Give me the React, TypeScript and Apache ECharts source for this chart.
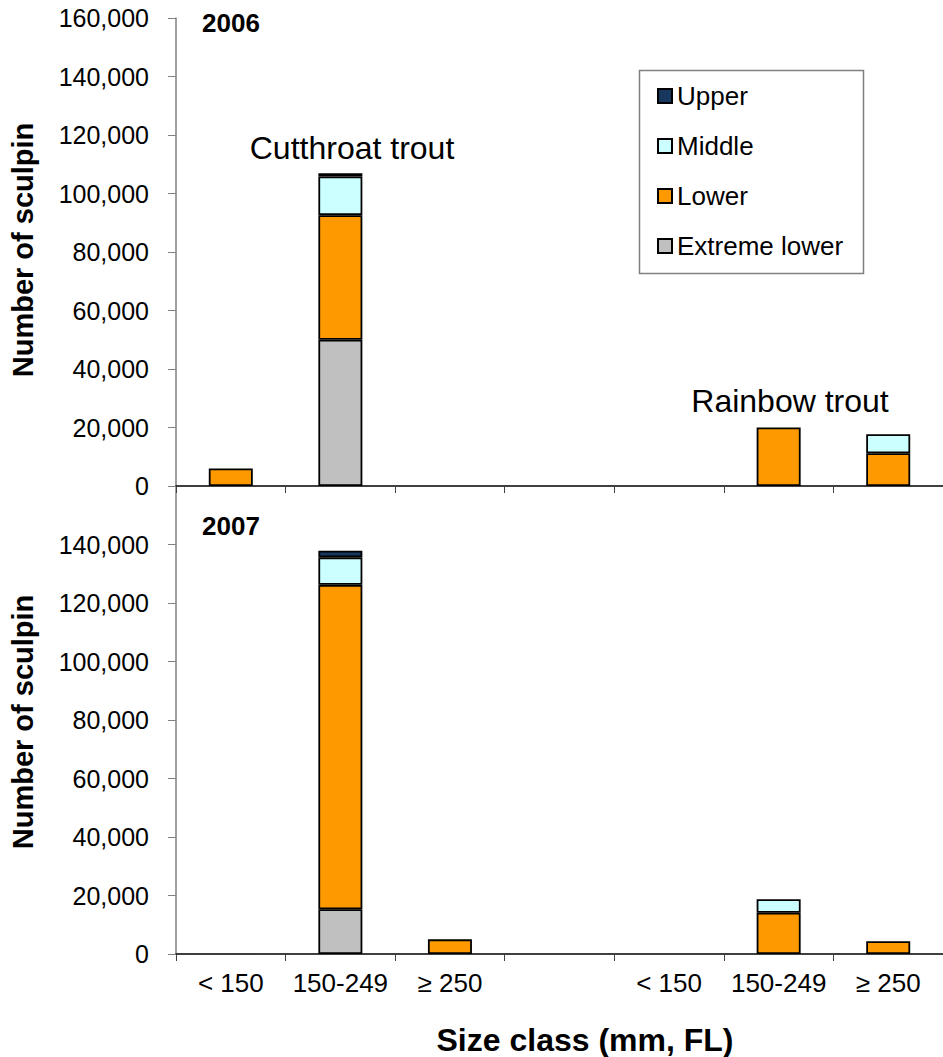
import React, { useEffect, useRef } from "react";
import * as echarts from "echarts";

const categories = ["< 150", "150-249", "≥ 250", "", "< 150", "150-249", "≥ 250"];
const seriesNames = ["Extreme lower", "Lower", "Middle", "Upper"];
const legendOrder = ["Upper", "Middle", "Lower", "Extreme lower"];
const colors = ["#C0C0C0", "#FF9900", "#CCFFFF", "#17375E"];

// 2006 (top panel)
const extreme2006 = [null, 50000, null, null, null, null, null];
const lower2006 = [6000, 42600, null, null, null, 20000, 11200];
const middle2006 = [null, 13200, null, null, null, null, 6500];
const upper2006 = [null, 1100, null, null, null, null, null];

// 2007 (bottom panel)
const extreme2007 = [null, 15300, null, null, null, null, null];
const lower2007 = [null, 110900, 5000, null, null, 14100, 4400];
const middle2007 = [null, 9400, null, null, null, 4600, null];
const upper2007 = [null, 2300, null, null, null, null, null];

const yMax = 160000;
const yInterval = 20000;

const FONT = "'Liberation Sans', Arial, sans-serif";

export default function App() {
  const ref = useRef<HTMLDivElement>(null);

  useEffect(() => {
    if (!ref.current) return;
    const chart = echarts.init(ref.current, undefined, { renderer: "svg" });

    const data2006 = [extreme2006, lower2006, middle2006, upper2006];
    const data2007 = [extreme2007, lower2007, middle2007, upper2007];

    const grids = [
      { left: 176, right: -5, top: 18, height: 468 },
      { left: 176, right: -5, top: 486, height: 468 },
    ];

    const xAxisBase = (gridIndex: number, showLabels: boolean) => ({
      type: "category",
      gridIndex,
      data: categories,
      axisLine: { show: true, lineStyle: { color: "#000", width: 1.5 } },
      axisTick: { show: true, interval: 0, length: 7, lineStyle: { color: "#404040", width: 1 } },
      axisLabel: {
        show: showLabels,
        interval: 0,
        margin: 16,
        color: "#000",
        fontSize: 26,
        fontFamily: FONT,
      },
      splitLine: { show: false },
    });

    const yAxisBase = (gridIndex: number, hideTop: boolean) => ({
      type: "value",
      gridIndex,
      min: 0,
      max: yMax,
      interval: yInterval,
      axisLine: { show: true, lineStyle: { color: "#808080", width: 1.5 } },
      axisTick: { show: true, length: 8, lineStyle: { color: "#808080", width: 1 } },
      axisLabel: {
        margin: 27,
        color: "#000",
        fontSize: 25,
        fontFamily: FONT,
        formatter: (v: number) =>
          hideTop && v >= yMax ? "" : v.toLocaleString("en-US"),
      },
      splitLine: { show: false },
    });

    const makeSeries = (data: (number | null)[][], idx: number) =>
      seriesNames.map((name, i) => ({
        name,
        type: "bar",
        xAxisIndex: idx,
        yAxisIndex: idx,
        stack: "s" + idx,
        barWidth: 44,
        data: data[i],
        itemStyle: { color: colors[i], borderColor: "#000", borderWidth: 1.8 },
        emphasis: { disabled: true },
      }));

    const textStyle = (size: number, bold = false) => ({
      fill: "#000",
      fontSize: size,
      fontFamily: FONT,
      fontWeight: bold ? "bold" : "normal",
    });

    const option: any = {
      animation: false,
      backgroundColor: "#fff",
      grid: grids,
      xAxis: [xAxisBase(0, false), xAxisBase(1, true)],
      yAxis: [yAxisBase(0, false), yAxisBase(1, true)],
      legend: {
        data: legendOrder,
        orient: "vertical",
        left: 657,
        top: 83,
        padding: 0,
        itemWidth: 14,
        itemHeight: 14,
        itemGap: 24,
        icon: "rect",
        selectedMode: false,
        textStyle: { color: "#000", fontSize: 26, lineHeight: 26, fontFamily: FONT },
      },
      series: [...makeSeries(data2006, 0), ...makeSeries(data2007, 1)],
      graphic: [
        {
          type: "rect",
          shape: { x: 639.5, y: 70.5, width: 224, height: 203 },
          style: { fill: "none", stroke: "#808080", lineWidth: 1.5 },
          z: 1,
        },
        {
          type: "text",
          x: 202,
          y: 23,
          style: { ...textStyle(26, true), text: "2006", align: "left", verticalAlign: "middle" },
        },
        {
          type: "text",
          x: 202,
          y: 526,
          style: { ...textStyle(26, true), text: "2007", align: "left", verticalAlign: "middle" },
        },
        {
          type: "text",
          x: 352,
          y: 148,
          style: { ...textStyle(32), text: "Cutthroat trout", align: "center", verticalAlign: "middle" },
        },
        {
          type: "text",
          x: 790,
          y: 401,
          style: { ...textStyle(32), text: "Rainbow trout", align: "center", verticalAlign: "middle" },
        },
        {
          type: "text",
          x: 585,
          y: 1040,
          style: { ...textStyle(32, true), text: "Size class (mm, FL)", align: "center", verticalAlign: "middle" },
        },
        {
          type: "text",
          x: 23,
          y: 250,
          rotation: Math.PI / 2,
          style: { ...textStyle(29, true), text: "Number of sculpin", align: "center", verticalAlign: "middle" },
        },
        {
          type: "text",
          x: 23,
          y: 722,
          rotation: Math.PI / 2,
          style: { ...textStyle(29, true), text: "Number of sculpin", align: "center", verticalAlign: "middle" },
        },
      ],
    };

    chart.setOption(option);
    return () => chart.dispose();
  }, []);

  return (
    <div
      ref={ref}
      style={{ position: "fixed", left: 0, top: 0, width: 943, height: 1057, background: "#fff" }}
    />
  );
}
